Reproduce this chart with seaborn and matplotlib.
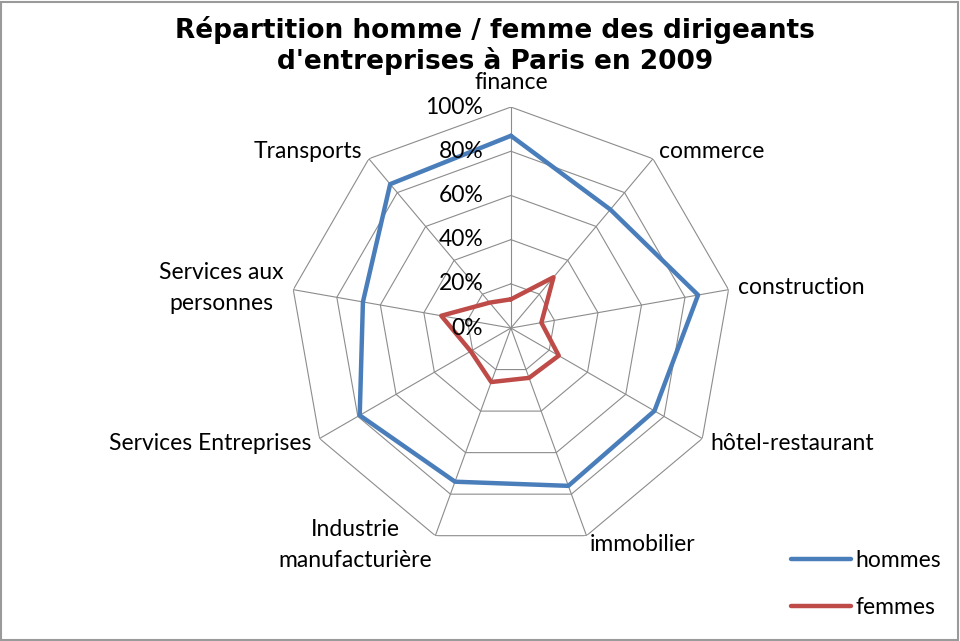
import numpy as np
import pandas as pd
import matplotlib
matplotlib.use("Agg")
import matplotlib.pyplot as plt
import seaborn as sns
from matplotlib.lines import Line2D
from matplotlib.patches import Rectangle

categories = ["finance", "commerce", "construction", "hôtel-restaurant", "immobilier",
              "Industrie\nmanufacturière", "Services Entreprises", "Services aux\npersonnes",
              "Transports"]
hommes = [0.87, 0.70, 0.86, 0.75, 0.76, 0.74, 0.79, 0.68, 0.85]
femmes = [0.13, 0.30, 0.14, 0.25, 0.24, 0.26, 0.21, 0.32, 0.15]
series_names = ["hommes", "femmes"]
series_colors = ["#4A7EBB", "#BE4B48"]
rticks = [0.0, 0.2, 0.4, 0.6, 0.8, 1.0]
rtick_labels = ["0%", "20%", "40%", "60%", "80%", "100%"]
title = "Répartition homme / femme des dirigeants\nd'entreprises à Paris en 2009"

sns.set_theme(style="white")
plt.rcParams["font.family"] = ["Lato", "DejaVu Sans"]
plt.rcParams["text.color"] = "black"

FS = 16.5

fig = plt.figure(figsize=(9.6, 6.41), dpi=100)
fig.patch.set_facecolor("white")
ax = fig.add_axes([0.302, 0.1435, 0.4604, 0.6895], projection="polar")
ax.set_theta_zero_location("N")
ax.set_theta_direction(-1)
ax.set_ylim(0, 1)
ax.grid(False)
ax.set_xticks([])
ax.set_yticks([])
ax.spines["polar"].set_visible(False)

n = len(categories)
theta = np.arange(n) * 2 * np.pi / n
theta_c = np.r_[theta, theta[0]]

grid_col = "#8C8C8C"
for r in rticks[1:]:
    ax.plot(theta_c, [r] * (n + 1), color=grid_col, lw=0.8, zorder=1)
for t in theta:
    ax.plot([t, t], [0, 1], color=grid_col, lw=0.8, zorder=1)

rows = []
for name, vals in zip(series_names, [hommes, femmes]):
    vc = list(vals) + [vals[0]]
    for t, v in zip(theta_c, vc):
        rows.append({"theta": t, "value": v, "serie": name})
df = pd.DataFrame(rows)
sns.lineplot(data=df, x="theta", y="value", hue="serie", palette=series_colors,
             hue_order=series_names, sort=False, estimator=None, lw=3.2, ax=ax,
             legend=False, zorder=3)
ax.set_xlabel("")
ax.set_ylabel("")

# radial tick labels
for r, lab in zip(rticks, rtick_labels):
    ax.annotate(lab, xy=(0, r), xytext=(-20, 0), textcoords="offset points",
                ha="right", va="center", fontsize=FS, color="black", zorder=4)

# category labels
for t, cat in zip(theta, categories):
    s, c = np.sin(t), np.cos(t)
    if abs(s) < 0.1:
        ha = "center"
        va = "bottom"
    else:
        ha = "left" if s > 0 else "right"
        va = "center"
    ax.annotate(cat, xy=(t, 1.0), xytext=(7 * s, 7 * c + (3 if va == "bottom" else 0)),
                textcoords="offset points", ha=ha, va=va, fontsize=FS,
                multialignment="center", linespacing=1.55, color="black",
                annotation_clip=False)

fig.text(0.516, 0.975, title, ha="center", va="top", fontsize=19, fontweight="bold",
         family="DejaVu Sans", linespacing=1.12, color="black")

handles = [Line2D([0], [0], color=c, lw=3.2) for c in series_colors]
fig.legend(handles, series_names, loc="center left", bbox_to_anchor=(0.812, 0.089),
           frameon=False, fontsize=FS, handlelength=2.6, handletextpad=0.2,
           labelspacing=1.1, borderpad=0, labelcolor="black")

fig.add_artist(Rectangle((0.001, 0.002), 0.997, 0.995, transform=fig.transFigure,
                         fill=False, edgecolor="#9A9A9A", lw=1.5))

fig.savefig("out.png", dpi=100)
